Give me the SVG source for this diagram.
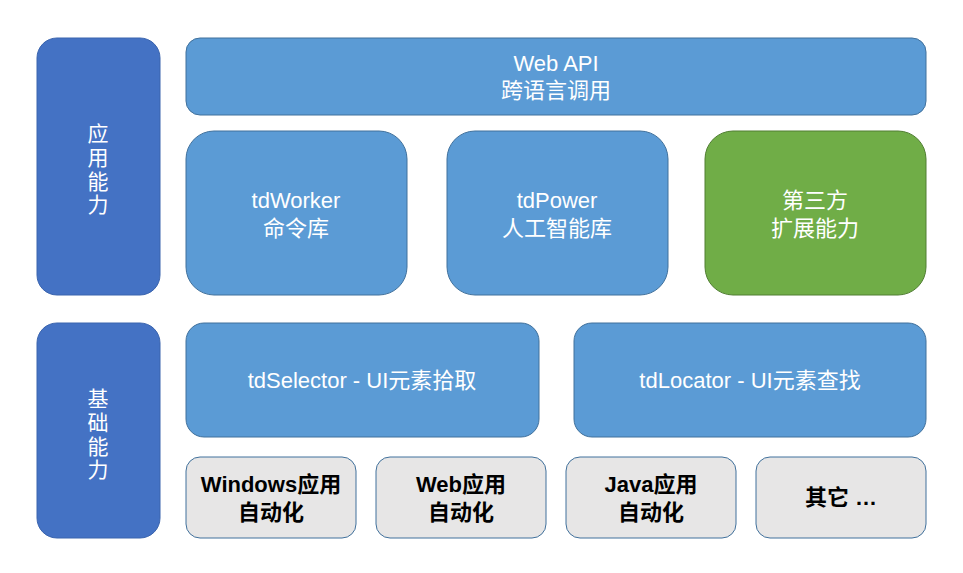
<svg xmlns="http://www.w3.org/2000/svg" width="963" height="573" viewBox="0 0 963 573">
<style>
.side{fill:#4472C4;stroke:#3A64AE;stroke-width:1}
.blue{fill:#5B9BD5;stroke:#41719C;stroke-width:1}
.green{fill:#70AD47;stroke:#507E32;stroke-width:1}
.gray{fill:#E7E6E6;stroke:#41719C;stroke-width:1}
text{font-family:"Liberation Sans","Noto Sans CJK SC",sans-serif;font-size:22px;text-anchor:middle;dominant-baseline:central}
.w{fill:#FFFFFF}
.v{font-size:21px}
.b{fill:#000000;font-weight:bold}
</style>
<rect width="963" height="573" fill="#FFFFFF"/>
<g id="app-side">
<rect class="side" x="37" y="38" width="123" height="257" rx="20"/>
<text class="w v" x="98" y="133">应</text>
<text class="w v" x="98" y="157">用</text>
<text class="w v" x="98" y="181">能</text>
<text class="w v" x="98" y="204">力</text>
</g>
<g id="webapi">
<rect class="blue" x="186" y="38" width="740" height="77" rx="14"/>
<text class="w" x="556" y="63">Web API</text>
<text class="w" x="556" y="90">跨语言调用</text>
</g>
<g id="tdworker">
<rect class="blue" x="186" y="131" width="221" height="164" rx="28"/>
<text class="w" x="296" y="200">tdWorker</text>
<text class="w" x="296" y="228">命令库</text>
</g>
<g id="tdpower">
<rect class="blue" x="447" y="131" width="221" height="164" rx="28"/>
<text class="w" x="557" y="200">tdPower</text>
<text class="w" x="557" y="228">人工智能库</text>
</g>
<g id="thirdparty">
<rect class="green" x="705" y="131" width="221" height="164" rx="28"/>
<text class="w" x="815" y="200">第三方</text>
<text class="w" x="815" y="228">扩展能力</text>
</g>
<g id="base-side">
<rect class="side" x="37" y="323" width="123" height="215" rx="20"/>
<text class="w v" x="98" y="398">基</text>
<text class="w v" x="98" y="422">础</text>
<text class="w v" x="98" y="446">能</text>
<text class="w v" x="98" y="469">力</text>
</g>
<g id="tdselector">
<rect class="blue" x="186" y="323" width="353" height="114" rx="18"/>
<text class="w" x="362" y="380">tdSelector - UI元素拾取</text>
</g>
<g id="tdlocator">
<rect class="blue" x="574" y="323" width="352" height="114" rx="18"/>
<text class="w" x="750" y="380">tdLocator - UI元素查找</text>
</g>
<g id="windows">
<rect class="gray" x="186" y="457" width="170" height="81" rx="14"/>
<text class="b" x="271" y="484">Windows应用</text>
<text class="b" x="271" y="512">自动化</text>
</g>
<g id="web">
<rect class="gray" x="376" y="457" width="170" height="81" rx="14"/>
<text class="b" x="461" y="484">Web应用</text>
<text class="b" x="461" y="512">自动化</text>
</g>
<g id="java">
<rect class="gray" x="566" y="457" width="170" height="81" rx="14"/>
<text class="b" x="651" y="484">Java应用</text>
<text class="b" x="651" y="512">自动化</text>
</g>
<g id="other">
<rect class="gray" x="756" y="457" width="170" height="81" rx="14"/>
<text class="b" x="841" y="497">其它 …</text>
</g>
<g id="connectors"></g>
</svg>
